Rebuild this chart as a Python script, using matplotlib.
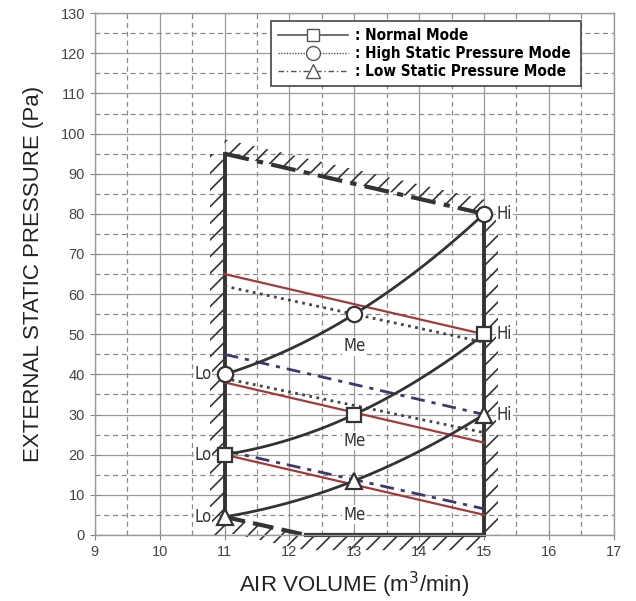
import numpy as np
import matplotlib
matplotlib.use("Agg")
import matplotlib.pyplot as plt
from matplotlib.lines import Line2D
from matplotlib.ticker import MultipleLocator

plt.rcParams['font.family'] = ['Liberation Sans', 'DejaVu Sans']
plt.rcParams['hatch.linewidth'] = 1.2

# fan points (air volume, static pressure) at Lo / Me / Hi
air = [11, 13, 15]
normal = [20, 30, 50]
high_sp = [40, 55, 80]
low_sp = [4.5, 13.5, 30]

# usable range boundary
left_x, right_x = 11, 15
left_top, right_top = 95, 80
bottom_x = [11, 12.25, 15]
bottom_y = [4.5, 0, 0]

# resistance lines: (pressure at 11, pressure at 15)
red_lines = [(65, 50), (38, 23), (20, 5)]
dotted_lines = [(62, 48), (39, 25.5)]
dashdot_lines = [(45, 30), (21, 6.5)]

labels = [": Normal Mode", ": High Static Pressure Mode", ": Low Static Pressure Mode"]
me_label_y = [47, 23.5, 5]

dark = '#333333'
cond = dict(family='DejaVu Sans', stretch='condensed')

fig = plt.figure(figsize=(6.36, 6.01), dpi=100)
ax = fig.add_axes([0.149, 0.110, 0.816, 0.868])
ax.set_xlim(9, 17)
ax.set_ylim(0, 130)

# grid
ax.xaxis.set_major_locator(MultipleLocator(1))
ax.xaxis.set_minor_locator(MultipleLocator(0.5))
ax.yaxis.set_major_locator(MultipleLocator(10))
ax.yaxis.set_minor_locator(MultipleLocator(5))
ax.grid(which='major', color='#9a9a9a', lw=0.9, ls='-')
ax.grid(which='minor', color='#8a8a8a', lw=0.9, ls=(0, (4, 3)))
ax.set_axisbelow(True)
ax.tick_params(which='major', direction='inout', length=7, color='#888888',
               labelsize=10.5, labelcolor='#444444')
ax.tick_params(which='minor', length=0)
for s in ax.spines.values():
    s.set_color('#999999')
    s.set_linewidth(1)

# hatched bands outside the boundary
hk = dict(hatch='//', facecolor='none', edgecolor=dark, linewidth=0)
ax.fill_betweenx([0, left_top], left_x - 0.22, left_x, **hk)
ax.fill_betweenx([0, right_top], right_x, right_x + 0.22, **hk)
ax.fill_between([left_x, right_x], [left_top, right_top],
                [left_top + 3.6, right_top + 3.6], **hk)
ax.fill_between(bottom_x, np.array(bottom_y) - 3.8, bottom_y, clip_on=False, **hk)

# boundary lines
ax.plot([left_x, left_x], [low_sp[0], left_top], color=dark, lw=2.8)
ax.plot([right_x, right_x], [0, right_top], color=dark, lw=2.8)
ax.plot([left_x, right_x], [left_top, right_top], color=dark, lw=3,
        ls=(0, (6, 2, 1.5, 2)))
ax.plot(bottom_x[:2], bottom_y[:2], color=dark, lw=3, ls=(0, (5, 2)))
ax.plot(bottom_x[1:], bottom_y[1:], color=dark, lw=3, clip_on=False)

# resistance lines
for a, b in red_lines:
    ax.plot([left_x, right_x], [a, b], color='#a33a3a', lw=1.6)
for a, b in dotted_lines:
    ax.plot([left_x, right_x], [a, b], color='#444444', lw=2, ls=(0, (1, 1.6)))
for a, b in dashdot_lines:
    ax.plot([left_x, right_x], [a, b], color='#3b3b6b', lw=2,
            ls=(0, (5, 2.5, 1.5, 2.5)))

# fan curves (smoothed through the three points)
xs = np.linspace(air[0], air[-1], 60)
for ys, m, ms in [(normal, 's', 10), (high_sp, 'o', 11), (low_sp, '^', 11)]:
    c = np.polyfit(air, ys, 2)
    ax.plot(xs, np.polyval(c, xs), color=dark, lw=2)
    ax.plot(air, ys, ls='none', marker=m, ms=ms, mfc='white', mec=dark,
            mew=1.6, zorder=5, clip_on=False)

# Lo / Me / Hi labels
tk = dict(fontsize=12, color=dark, va='center', zorder=4,
          bbox=dict(facecolor='white', edgecolor='none', pad=0.5), **cond)
for ys in (normal, high_sp, low_sp):
    ax.text(air[0] - 0.2, ys[0], 'Lo', ha='right', **tk)
    ax.text(air[-1] + 0.2, ys[-1], 'Hi', ha='left', **tk)
for y in me_label_y:
    ax.text(air[1], y, 'Me', ha='center', **tk)

# legend
handles = [
    Line2D([], [], color='#555555', lw=1.2, ls='-', marker='s', ms=9,
           mfc='white', mec='#555555'),
    Line2D([], [], color='#555555', lw=1.0, ls=(0, (1, 1)), marker='o', ms=10,
           mfc='white', mec='#555555'),
    Line2D([], [], color='#555555', lw=1.0, ls=(0, (4, 2, 1, 2)), marker='^',
           ms=10, mfc='white', mec='#555555'),
]
leg = ax.legend(handles, labels, loc='upper left',
                bbox_to_anchor=(0.339, 0.868, 0.597, 0.117), mode='expand',
                borderaxespad=0, handlelength=4.6, handletextpad=0.5,
                labelspacing=0.2, borderpad=0.45, fancybox=False, framealpha=1,
                prop=dict(weight='bold', size=11, **cond))
leg.get_frame().set_edgecolor('#444444')
leg.get_frame().set_linewidth(1.2)
leg.set_zorder(10)

ax.set_xlabel('AIR VOLUME (m$^3$/min)', fontsize=16, color='#222222', labelpad=8)
ax.set_ylabel('EXTERNAL STATIC PRESSURE (Pa)', fontsize=16, color='#222222',
              labelpad=12)

fig.savefig('out.png', dpi=100)
